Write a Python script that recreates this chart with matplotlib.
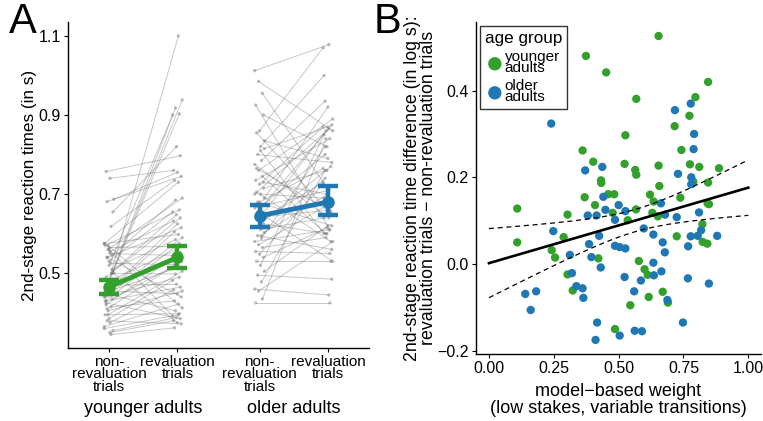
import numpy as np
import matplotlib
matplotlib.use("Agg")
import matplotlib.pyplot as plt

plt.rcParams['font.family'] = ['Liberation Sans', 'DejaVu Sans']

GREEN = '#33a02c'
BLUE = '#1f78b4'

# ---------------- Panel A data ----------------
conditions = ["non-\nrevaluation\ntrials", "revaluation\ntrials"]
groups = ["younger adults", "older adults"]

young_nonrev = [0.440, 0.475, 0.500, 0.455, 0.520, 0.655, 0.757, 0.740, 0.687, 0.681,
                0.618, 0.575, 0.560, 0.545, 0.570, 0.530, 0.505, 0.490, 0.555, 0.470,
                0.540, 0.460, 0.575, 0.445, 0.510, 0.430, 0.565, 0.485, 0.420, 0.550,
                0.475, 0.410, 0.525, 0.450, 0.395, 0.500, 0.440, 0.385, 0.470, 0.430,
                0.375, 0.455, 0.540, 0.415, 0.365, 0.570, 0.445, 0.395, 0.560, 0.355,
                0.425, 0.350, 0.500, 0.380, 0.345, 0.360, 0.405, 0.435]
young_rev = [1.100, 0.938, 0.918, 0.903, 0.900, 0.820, 0.797, 0.760, 0.755, 0.745,
             0.735, 0.730, 0.690, 0.685, 0.660, 0.655, 0.648, 0.640, 0.632, 0.625,
             0.615, 0.605, 0.598, 0.590, 0.585, 0.575, 0.568, 0.560, 0.552, 0.545,
             0.538, 0.530, 0.522, 0.515, 0.505, 0.498, 0.490, 0.482, 0.472, 0.465,
             0.458, 0.448, 0.440, 0.430, 0.422, 0.412, 0.405, 0.398, 0.392, 0.388,
             0.385, 0.380, 0.375, 0.372, 0.362, 0.395, 0.455, 0.520]

old_nonrev = [1.012, 0.985, 0.955, 0.925, 0.860, 0.900, 0.855, 0.820, 0.815, 0.800,
              0.785, 0.775, 0.760, 0.745, 0.735, 0.725, 0.715, 0.705, 0.700, 0.690,
              0.680, 0.670, 0.665, 0.655, 0.648, 0.640, 0.632, 0.625, 0.618, 0.610,
              0.603, 0.595, 0.588, 0.580, 0.572, 0.565, 0.555, 0.548, 0.540, 0.530,
              0.520, 0.505, 0.495, 0.478, 0.460, 0.455, 0.435, 0.425, 0.680, 0.730,
              0.765, 0.810, 0.835, 0.655, 0.595, 0.700]
old_rev = [1.078, 0.860, 0.720, 0.610, 1.070, 0.820, 0.650, 1.000, 0.870, 0.780,
           0.935, 0.640, 0.890, 0.600, 0.840, 0.870, 0.760, 0.580, 0.690, 0.920,
           0.620, 0.800, 0.710, 0.530, 0.860, 0.660, 0.730, 0.600, 0.770, 0.640,
           0.700, 0.560, 0.820, 0.610, 0.680, 0.590, 0.550, 0.725, 0.615, 0.530,
           0.850, 0.620, 0.485, 0.760, 0.445, 0.580, 0.840, 0.425, 0.765, 0.700,
           0.655, 0.600, 0.790, 0.875, 0.740, 0.865]

# group means and error-bar bounds (as drawn)
young_mean = [0.465, 0.540]
young_lo = [0.447, 0.513]
young_hi = [0.483, 0.570]
old_mean = [0.645, 0.680]
old_lo = [0.617, 0.647]
old_hi = [0.673, 0.720]

# ---------------- Panel B data ----------------
young_mb = [0.654, 0.374, 0.452, 0.845, 0.568, 0.796, 0.773, 0.716, 0.526, 0.361,
            0.742, 0.402, 0.523, 0.654, 0.775, 0.811, 0.887, 0.564, 0.568, 0.432,
            0.433, 0.788, 0.845, 0.657, 0.369, 0.460, 0.483, 0.621, 0.738, 0.843,
            0.848, 0.409, 0.635, 0.109, 0.303, 0.567, 0.477, 0.630, 0.651, 0.535,
            0.823, 0.109, 0.288, 0.724, 0.824, 0.842, 0.242, 0.255, 0.422, 0.578,
            0.600, 0.612, 0.303, 0.323, 0.670, 0.616, 0.690, 0.545, 0.486]
young_diff = [0.526, 0.480, 0.442, 0.420, 0.381, 0.385, 0.342, 0.318, 0.297, 0.262,
              0.263, 0.236, 0.231, 0.227, 0.230, 0.224, 0.221, 0.217, 0.206, 0.193,
              0.187, 0.190, 0.188, 0.180, 0.154, 0.161, 0.161, 0.160, 0.153, 0.140,
              0.138, 0.136, 0.144, 0.128, 0.114, 0.126, 0.118, 0.118, 0.110, 0.101,
              0.092, 0.050, 0.062, 0.064, 0.051, 0.047, 0.032, 0.015, 0.013, 0.007,
              -0.012, -0.025, -0.024, -0.061, -0.064, -0.076, -0.089, -0.095, -0.150]

old_mb = [0.240, 0.778, 0.717, 0.791, 0.789, 0.437, 0.371, 0.729, 0.780, 0.780,
          0.441, 0.663, 0.500, 0.449, 0.381, 0.415, 0.526, 0.810, 0.679, 0.724,
          0.486, 0.597, 0.818, 0.248, 0.425, 0.805, 0.778, 0.880, 0.634, 0.670,
          0.386, 0.486, 0.504, 0.526, 0.768, 0.678, 0.312, 0.395, 0.634, 0.431,
          0.320, 0.636, 0.665, 0.523, 0.586, 0.767, 0.848, 0.337, 0.361, 0.364,
          0.560, 0.688, 0.140, 0.182, 0.161, 0.417, 0.748, 0.411, 0.504, 0.562,
          0.590]
old_diff = [0.324, 0.370, 0.355, 0.300, 0.265, 0.224, 0.216, 0.208, 0.200, 0.184,
            0.155, 0.140, 0.136, 0.125, 0.112, 0.112, 0.122, 0.119, 0.114, 0.108,
            0.102, 0.082, 0.078, 0.076, 0.065, 0.065, 0.064, 0.065, 0.068, 0.050,
            0.046, 0.042, 0.039, 0.036, 0.041, 0.027, 0.021, 0.016, 0.003, -0.008,
            -0.021, -0.026, -0.017, -0.030, -0.038, -0.033, -0.045, -0.051, -0.056, -0.078,
            -0.063, -0.083, -0.069, -0.063, -0.106, -0.135, -0.135, -0.175, -0.165, -0.154,
            -0.155]

# ---------------- Figure ----------------
fig = plt.figure(figsize=(7.63, 4.21), dpi=100)
axA = fig.add_axes([0.0891, 0.1734, 0.3945, 0.7743])
axB = fig.add_axes([0.6235, 0.1591, 0.3739, 0.7894])

xpos = {"young": [0.0, 1.0], "old": [2.2, 3.2]}

def jit(i, k):
    return (((i * 37 + k * 17) % 11) - 5) / 5.0 * 0.07

for key, nr, rv in (("young", young_nonrev, young_rev), ("old", old_nonrev, old_rev)):
    x0, x1 = xpos[key]
    for i, (a, b) in enumerate(zip(nr, rv)):
        xa = x0 + jit(i, 0)
        xb = x1 + jit(i, 1)
        axA.plot([xa, xb], [a, b], color='#555555', alpha=0.33, lw=0.7, zorder=1)
        axA.scatter([xa, xb], [a, b], s=6, color='#777777', alpha=0.45,
                    edgecolors='none', zorder=2)

for key, m, lo, hi, c in (("young", young_mean, young_lo, young_hi, GREEN),
                          ("old", old_mean, old_lo, old_hi, BLUE)):
    xs = xpos[key]
    m = np.array(m); lo = np.array(lo); hi = np.array(hi)
    axA.plot(xs, m, color=c, lw=3.5, zorder=5, solid_capstyle='butt')
    axA.errorbar(xs, m, yerr=[m - lo, hi - m], fmt='o', color=c, ms=8,
                 elinewidth=3.2, capsize=7, capthick=3.2, zorder=6)

axA.set_xlim(-0.6, 3.8)
axA.set_ylim(0.311, 1.135)
axA.set_yticks([0.5, 0.7, 0.9, 1.1])
axA.set_yticklabels(["0.5", "0.7", "0.9", "1.1"])
axA.set_xticks(xpos["young"] + xpos["old"])
axA.set_xticklabels(conditions * 2, linespacing=0.85, fontsize=11)
axA.set_ylabel("2nd-stage reaction times (in s)", fontsize=12.3, labelpad=1)
for gx, g in zip([0.5, 2.7], groups):
    axA.text(gx, -0.185, g, transform=axA.get_xaxis_transform(), ha='center',
             va='center', fontsize=13)

# Panel B
axB.scatter(young_mb, young_diff, s=36, color=GREEN, edgecolors='none', zorder=3,
            label="younger\nadults")
axB.scatter(old_mb, old_diff, s=36, color=BLUE, edgecolors='none', zorder=3,
            label="older\nadults")

xall = np.array(young_mb + old_mb)
yall = np.array(young_diff + old_diff)
n = len(xall)
slope, icpt = np.polyfit(xall, yall, 1)
resid = yall - (icpt + slope * xall)
s_err = np.sqrt(np.sum(resid ** 2) / (n - 2))
xg = np.linspace(0, 1, 100)
yg = icpt + slope * xg
se_fit = s_err * np.sqrt(1.0 / n + (xg - xall.mean()) ** 2 / np.sum((xall - xall.mean()) ** 2))
tq = 1.98
axB.plot(xg, yg, color='black', lw=1.9, zorder=4)
axB.plot(xg, yg + tq * se_fit, color='black', lw=0.9, ls=(0, (4, 3)), zorder=4)
axB.plot(xg, yg - tq * se_fit, color='black', lw=0.9, ls=(0, (4, 3)), zorder=4)

axB.set_xlim(-0.051, 1.049)
axB.set_ylim(-0.2076, 0.559)
axB.set_xticks([0, 0.25, 0.5, 0.75, 1.0])
axB.set_xticklabels(["0.00", "0.25", "0.50", "0.75", "1.00"])
axB.set_yticks([-0.2, 0.0, 0.2, 0.4])
axB.set_yticklabels(["\u22120.2", "0.0", "0.2", "0.4"])
axB.set_xlabel("model\u2212based weight\n(low stakes, variable transitions)",
               fontsize=13, labelpad=5, linespacing=1.0)
axB.set_ylabel("2nd-stage reaction time difference (in log s):\n"
               "revaluation trials \u2212 non-revaluation trials",
               fontsize=12.8, labelpad=0, linespacing=0.95)
leg = axB.legend(title="age group", loc='upper left', bbox_to_anchor=(0.0, 1.0),
                 fontsize=11, title_fontsize=12.3, frameon=True, fancybox=False,
                 handletextpad=0.0, markerscale=1.6, borderpad=0.3,
                 labelspacing=0.25, handlelength=1.3, borderaxespad=0.3)
leg.get_frame().set_edgecolor('black')
leg.get_frame().set_linewidth(1.0)
leg._legend_box.align = "left"
for t in leg.get_texts():
    t.set_linespacing(0.75)

for ax in (axA, axB):
    ax.spines['top'].set_visible(False)
    ax.spines['right'].set_visible(False)
    ax.spines['left'].set_linewidth(1.0)
    ax.spines['bottom'].set_linewidth(1.0)
    ax.tick_params(axis='y', labelsize=11.5)
    ax.tick_params(axis='both', length=3, width=0.8, pad=2, colors='black')
axB.tick_params(axis='x', labelsize=11.5)

fig.text(0.012, 0.995, "A", fontsize=30, ha='left', va='top')
fig.text(0.49, 0.995, "B", fontsize=30, ha='left', va='top')

fig.savefig("out.png", dpi=100)
